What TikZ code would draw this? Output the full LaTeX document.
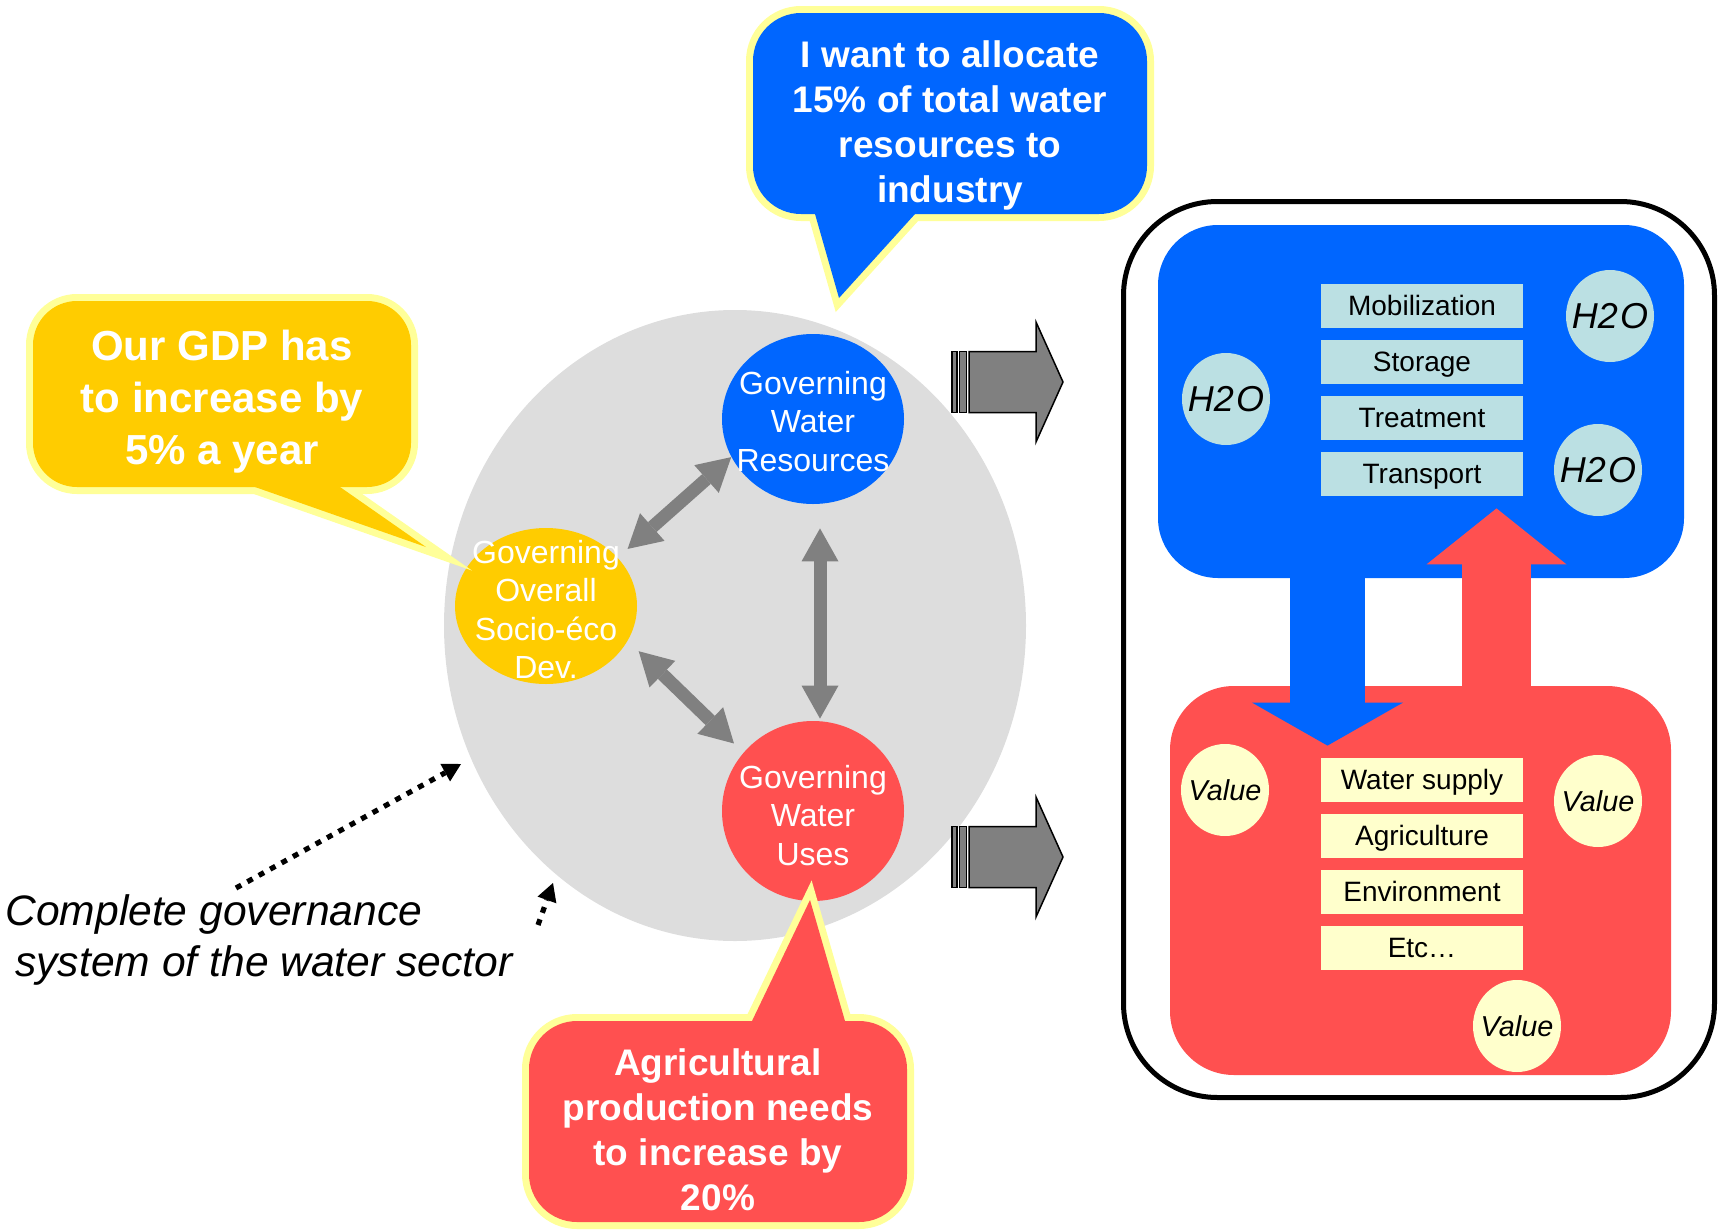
\documentclass[tikz,border=0pt]{standalone}
\usepackage{fontspec}
\setmainfont{Liberation Sans}
\usetikzlibrary{arrows.meta,shapes.geometric}
\definecolor{blueC}{HTML}{0066FF}
\definecolor{redC}{HTML}{FF5050}
\definecolor{yelC}{HTML}{FFCC00}
\definecolor{calloutB}{HTML}{FFFF99}
\definecolor{grayE}{HTML}{DDDDDD}
\definecolor{arrG}{HTML}{808080}
\definecolor{lblue}{HTML}{BBE0E3}
\definecolor{lyel}{HTML}{FFFFCC}
\begin{document}
\begin{tikzpicture}[x=0.5pt,y=-0.5pt,
  govshape/.style={ellipse, inner sep=0pt, draw=none},
  govtxt/.style={text=white, align=center, inner sep=0pt, font=\fontsize{16pt}{19.3pt}\selectfont},
  cbord/.style={draw=calloutB, line width=7pt, line join=miter},
  calltxt/.style={text=white, align=center, inner sep=0pt, font=\bfseries\fontsize{18.5pt}{22.5pt}\selectfont},
  duo/.style={draw=arrG, line width=6.5pt, <->, >={Triangle[width=18.5pt,length=16.5pt,line width=0pt]}},
  tagbox/.style={rectangle, minimum width=101pt, minimum height=22pt, inner sep=0pt, text height=10.6pt, text depth=1.2pt, font=\fontsize{14pt}{16pt}\selectfont},
  blob/.style={ellipse, minimum width=44pt, minimum height=46pt, inner sep=0pt},
  blobtxt/.style={inner sep=0pt, font=\itshape\fontsize{18pt}{20pt}\selectfont},
  valtxt/.style={inner sep=0pt, font=\itshape\fontsize{14.4pt}{16pt}\selectfont},
  blockarr/.style={draw=black, fill=arrG, line width=0.75pt},
  dotarr/.style={draw=black, line width=2.6pt, dash pattern=on 3pt off 3.5pt, -{Triangle[width=10pt,length=9pt,line width=0pt]}},
  notetxt/.style={inner sep=0pt, anchor=base west, font=\itshape\fontsize{21.3pt}{25.5pt}\selectfont}
]
\useasboundingbox (0,0) rectangle (1720,1232);

% ---- system ellipse ----
\node[ellipse, fill=grayE, minimum width=291pt, minimum height=315.5pt, inner sep=0pt] (sys) at (735,625.5) {};

% ---- governance circles ----
\node[govshape, fill=blueC, minimum width=91pt, minimum height=85pt] (blu) at (813,419) {};
\node[govshape, fill=yelC, minimum width=91pt, minimum height=78pt] (yel) at (546,606) {};
\node[govshape, fill=redC, minimum width=91pt, minimum height=90pt] (red) at (813,811) {};
\node[govtxt] (bluT) at (813,421.5) {Governing\\Water\\Resources};
\node[govtxt] (yelT) at (546,609.5) {Governing\\Overall\\Socio-éco\\Dev.};
\node[govtxt] (redT) at (813,815.5) {Governing\\Water\\Uses};

% ---- double arrows ----
\draw[duo, shorten <=6.5pt] (yel.34.3) -- (blu.205.8);
\draw[duo, shorten <=7.5pt, shorten >=6.5pt] (yel.337.9) -- (red.140.3);
\draw[duo, shorten <=12pt, shorten >=1pt] ([xshift=3.5pt]blu.south) -- ([xshift=3.5pt]red.north);

% ---- callout: GDP ----
\draw[cbord, rounded corners=22pt] (33,301) rectangle (411,487);
\draw[cbord] (255,487) -- (426,547) -- (340,487);
\fill[yelC, rounded corners=22pt] (33,301) rectangle (411,487);
\fill[yelC] (255,487) -- (426,547) -- (340,487) -- cycle;
\node[calltxt, font=\bfseries\fontsize{21pt}{26pt}\selectfont] (gdpT) at (222,402) {Our GDP has\\to increase by\\5\% a year};

% ---- callout: allocation ----
\draw[cbord, rounded corners=24pt] (753,13) rectangle (1147,214);
\draw[cbord] (815,214) -- (839,298) -- (915,214);
\fill[blueC, rounded corners=24pt] (753,13) rectangle (1147,214);
\fill[blueC] (815,214) -- (839,298) -- (915,214) -- cycle;
\node[calltxt] (allocT) at (950,125) {I want to allocate\\15\% of total water\\resources to\\industry};

% ---- callout: agriculture ----
\draw[cbord, rounded corners=24pt] (529,1021) rectangle (907,1222);
\draw[cbord] (752,1021) -- (810,900) -- (845,1021);
\fill[redC, rounded corners=24pt] (529,1021) rectangle (907,1222);
\fill[redC] (752,1021) -- (810,900) -- (845,1021) -- cycle;
\node[calltxt] (agriT) at (718,1129.5) {Agricultural\\production needs\\to increase by\\20\%};

% ---- big grey block arrows ----
\foreach \c in {382,857} {
  \draw[blockarr] (969,\c-30.5) -- (1036,\c-30.5) -- (1036,\c-60) -- (1063,\c)
        -- (1036,\c+60) -- (1036,\c+30.5) -- (969,\c+30.5) -- cycle;
  \draw[blockarr] (952,\c-30.5) rectangle (957,\c+30.5);
  \draw[blockarr] (959.5,\c-30.5) rectangle (966.5,\c+30.5);
}

% ---- right panel ----
\node[draw=black, line width=2.5pt, rounded corners=47pt, minimum width=295.5pt, minimum height=448pt, inner sep=0pt] (frame) at (1419,649.5) {};
\node[fill=blueC, rounded corners=30pt, minimum width=263pt, minimum height=176.5pt, inner sep=0pt] (bbox) at (1421,401.5) {};
\node[fill=redC, rounded corners=32pt, minimum width=250.5pt, minimum height=194.5pt, inner sep=0pt] (rbox) at (1420.5,880.5) {};

\draw[blueC, line width=37.5pt, -{Triangle[width=75.5pt,length=21.5pt,line width=0pt]}, shorten >=-30pt]
  ([xshift=-46.75pt,yshift=0.5pt]bbox.south) -- ([xshift=-46.5pt]rbox.north);
\draw[redC, line width=34.5pt, -{Triangle[width=70pt,length=28pt,line width=0pt]}, shorten >=-35pt]
  ([xshift=38pt,yshift=-0.5pt]rbox.north) -- ([xshift=37.75pt]bbox.south);

\node[tagbox, fill=lblue] (mob) at (1422,306) {Mobilization};
\node[tagbox, fill=lblue] (sto) at (1422,362) {Storage};
\node[tagbox, fill=lblue] (tre) at (1422,418) {Treatment};
\node[tagbox, fill=lblue] (tra) at (1422,474) {Transport};

\node[tagbox, fill=lyel] (wsu) at (1422,780) {Water supply};
\node[tagbox, fill=lyel] (agr) at (1422,836) {Agriculture};
\node[tagbox, fill=lyel] (env) at (1422,892) {Environment};
\node[tagbox, fill=lyel] (etc) at (1422,948) {Etc…};

\node[blob, fill=lblue] (h1) at (1226,399) {};
\node[blob, fill=lblue] (h2) at (1610,316) {};
\node[blob, fill=lblue] (h3) at (1598,470) {};
\node[blobtxt] at (h1) {H2\kern1.2pt O};
\node[blobtxt] at (h2) {H2\kern1.2pt O};
\node[blobtxt] at (h3) {H2\kern1.2pt O};

\node[blob, fill=lyel] (v1) at (1225,790) {};
\node[blob, fill=lyel] (v2) at (1598,801) {};
\node[blob, fill=lyel] (v3) at (1517,1026) {};
\node[valtxt] at (v1) {Value};
\node[valtxt] at (v2) {Value};
\node[valtxt] at (v3) {Value};

% ---- note and dotted arrows ----
\node[notetxt] (note1) at (5,925) {Complete governance};
\node[notetxt] (note2) at (15,976) {system of the water sector};
\coordinate (dA) at (236,888);
\coordinate (dB) at (461,764);
\draw[dotarr] (dA) -- (dB);
\coordinate (dC) at (538,925);
\coordinate (dD) at (553,883);
\draw[dotarr] (dC) -- (dD);
\end{tikzpicture}
\end{document}
